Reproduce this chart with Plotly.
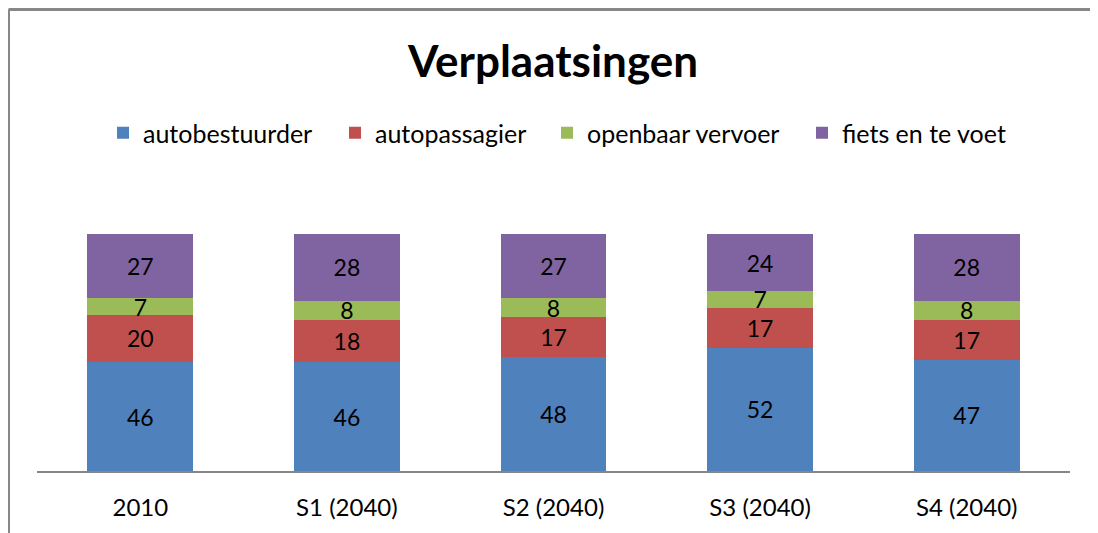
import plotly.graph_objects as go

categories = ["2010", "S1 (2040)", "S2 (2040)", "S3 (2040)", "S4 (2040)"]
series_names = ["autobestuurder", "autopassagier", "openbaar vervoer", "fiets en te voet"]
autobestuurder = [46, 46, 48, 52, 47]
autopassagier = [20, 18, 17, 17, 17]
openbaar_vervoer = [7, 8, 8, 7, 8]
fiets_en_te_voet = [27, 28, 27, 24, 28]
colors = ["#4F81BD", "#C0504D", "#9BBB59", "#8064A2"]

FONT = "Lato"
OFF = 8  # page body margin
W, H = 1098 - OFF, 533 - OFF
L, R = 37 - OFF, 1098 - 1070
T, B = 187 - OFF, 533 - 471

legend_ids = ["legend", "legend2", "legend3", "legend4"]
legend_square_x = [117, 349, 561, 816]  # screen px of square left edges

fig = go.Figure()
for name, vals, col, lid in zip(series_names,
                                [autobestuurder, autopassagier, openbaar_vervoer, fiets_en_te_voet],
                                colors, legend_ids):
    fig.add_trace(go.Bar(
        x=categories, y=vals, name=name, legend=lid,
        marker=dict(color=col, line=dict(width=0)),
        text=[str(v) for v in vals], textposition="inside",
        insidetextanchor="middle", textangle=0, constraintext="none",
        textfont=dict(family=FONT, size=23, color="#000000"),
        hoverinfo="skip",
    ))

pw = W - L - R
ph = H - T - B
def px_x(p):
    return (p - OFF - L) / pw
def px_y(p):
    return (H - B - (p - OFF)) / ph

shapes = [
    dict(type="line", xref="paper", yref="paper", x0=px_x(8.5), x1=px_x(1097), y0=px_y(9.5), y1=px_y(9.5),
         line=dict(color="#878787", width=3)),
    dict(type="line", xref="paper", yref="paper", x0=px_x(8.5), x1=px_x(8.5), y0=px_y(9.5), y1=px_y(540),
         line=dict(color="#878787", width=3)),
    dict(type="line", xref="paper", yref="paper", x0=px_x(1096.5), x1=px_x(1096.5), y0=px_y(10), y1=px_y(540),
         line=dict(color="#ababab", width=2)),
]

legends = {}
for lid, sx in zip(legend_ids, legend_square_x):
    legends[lid] = dict(
        orientation="h", xref="container", yref="container",
        x=(sx - OFF - 14) / W, xanchor="left",
        y=1 - (133 - OFF) / H, yanchor="middle",
        font=dict(family=FONT, size=25, color="#000000"),
        bgcolor="rgba(0,0,0,0)", borderwidth=0,
        itemclick=False, itemdoubleclick=False, itemwidth=30,
    )

fig.update_layout(
    width=W, height=H,
    barmode="stack", bargap=0.487,
    paper_bgcolor="white", plot_bgcolor="white",
    margin=dict(l=L, r=R, t=T, b=B, pad=0),
    title=dict(text="<b>Verplaatsingen</b>", x=(553 - OFF) / W, xanchor="center",
               y=1 - (62 - OFF) / H, yanchor="middle",
               font=dict(family=FONT, size=44, color="#000000")),
    uniformtext=dict(minsize=23, mode="show"),
    xaxis=dict(showline=True, linecolor="#868686", linewidth=1.5, ticks="", showgrid=False,
               tickfont=dict(family=FONT, size=24, color="#000000"), ticklabelstandoff=14),
    yaxis=dict(range=[0, 120], visible=False, showgrid=False, zeroline=False),
    shapes=shapes,
    showlegend=True,
    **legends,
)

fig.write_html("out.html")
